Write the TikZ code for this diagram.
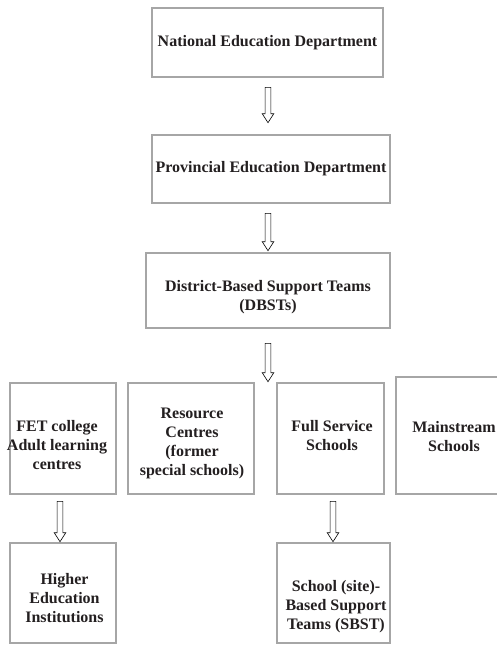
\documentclass[tikz,border=0pt]{standalone}
\usepackage{fontspec}
\setmainfont{Liberation Serif}
\usetikzlibrary{calc}
\definecolor{boxgray}{HTML}{A6A6A6}
\definecolor{txtcol}{HTML}{231F20}
\tikzset{
  box/.style={draw=boxgray, line width=2.6pt, rectangle, inner sep=0pt},
  lbl/.style={font=\bfseries\fontsize{16}{19}\selectfont, align=center, inner sep=0pt, text=txtcol},
  harrow/.style={draw=black, line width=0.6pt, fill=white, line join=miter},
}
\newcommand\hollowarrow[2]{%
  \draw[harrow] let \p1=(#1), \p2=(#2) in
    (\x1-2.9pt,\y1) -- (\x1+2.9pt,\y1) -- (\x1+2.9pt,\y2+9pt) -- (\x1+5.8pt,\y2+9pt)
    -- (\x1,\y2) -- (\x1-5.8pt,\y2+9pt) -- (\x1-2.9pt,\y2+9pt) -- cycle;}
\begin{document}
\begin{tikzpicture}[x=1pt,y=-1pt]
\useasboundingbox (0,0) rectangle (497,645);
% boxes
\node[box, minimum width=231, minimum height=69] (b1) at (267.5,42.5) {};
\node[box, minimum width=238, minimum height=68] (b2) at (271,169) {};
\node[box, minimum width=244, minimum height=75] (b3) at (268,290.5) {};
\node[box, minimum width=106, minimum height=111] (fet) at (63,438.5) {};
\node[box, minimum width=126, minimum height=111] (res) at (191,438.5) {};
\node[box, minimum width=107, minimum height=111] (full) at (330.5,438.5) {};
\node[box, minimum width=114, minimum height=117] (main) at (453,435.5) {};
\node[box, minimum width=106, minimum height=100] (hei) at (63,593) {};
\node[box, minimum width=113, minimum height=100] (sbst) at (333.5,593) {};
% texts
\node[lbl] (t1) at (267.5,43) {National Education Department};
\node[lbl] (t2) at (271,169) {Provincial Education Department};
\node[lbl] (t3) at (268,297.5) {District-Based Support Teams\\(DBSTs)};
\node[lbl] (tfet) at (57,445) {FET college\\Adult learning\\centres};
\node[lbl] (tres) at (192,443.5) {Resource\\Centres\\(former\\special schools)};
\node[lbl] (tfull) at (332,436) {Full Service\\Schools};
\node[lbl] (tmain) at (454,437) {Mainstream\\Schools};
\node[lbl] (thei) at (64.5,598) {Higher\\Education\\Institutions};
\node[lbl] (tsbst) at (336,606.5) {School (site)-\\Based Support\\Teams (SBST)};
% arrow end points
\coordinate (a1s) at ($(b1.south)+(0.5,9)$);
\coordinate (a1e) at ($(b1.south |- b2.north)+(0.5,-11)$);
\coordinate (a2s) at ($(b1.south |- b2.south)+(0.5,9)$);
\coordinate (a2e) at ($(b1.south |- b3.north)+(0.5,-1)$);
\coordinate (a3s) at ($(b3.south)+(0,14)$);
\coordinate (a3e) at ($(b3.south |- res.north)+(0,0)$);
\coordinate (a4s) at ($(fet.south)+(-3,6)$);
\coordinate (a4e) at ($(fet.south |- hei.north)+(-3,0)$);
\coordinate (a5s) at ($(full.south)+(2.5,6)$);
\coordinate (a5e) at ($(full.south |- sbst.north)+(2.5,0)$);
\hollowarrow{a1s}{a1e}
\hollowarrow{a2s}{a2e}
\hollowarrow{a3s}{a3e}
\hollowarrow{a4s}{a4e}
\hollowarrow{a5s}{a5e}
\end{tikzpicture}
\end{document}
